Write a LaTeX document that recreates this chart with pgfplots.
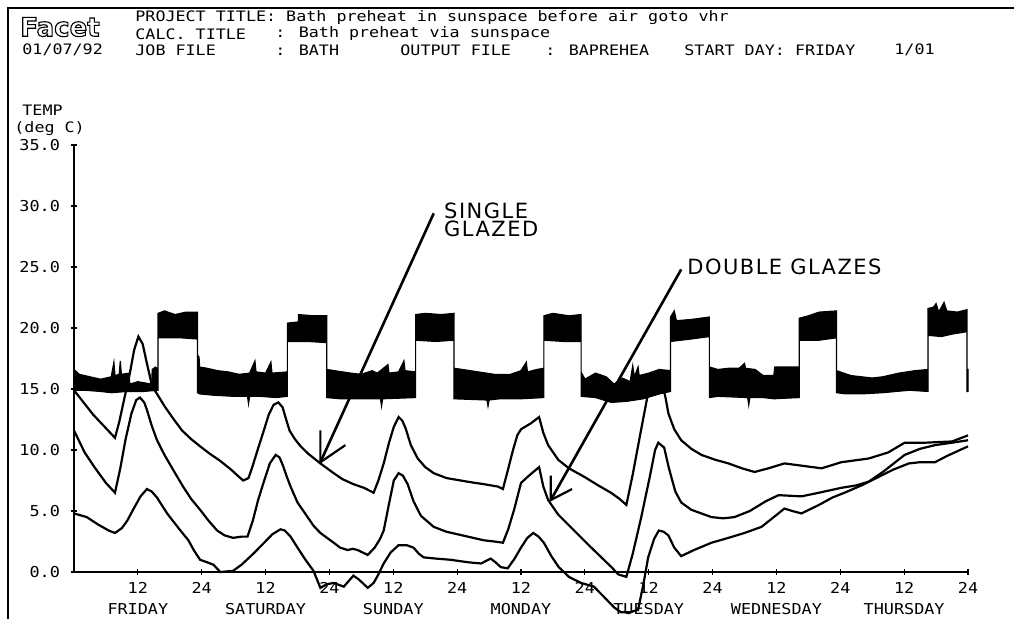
\documentclass[border=0pt]{standalone}
\usepackage{fontspec}
\usepackage{pgfplots}
\pgfplotsset{compat=1.18}
\newfontfamily\plotfont[FakeStretch=1.16]{DejaVu Sans Mono}
\newfontfamily\plotfonttick[FakeStretch=1.12]{DejaVu Sans Mono}
\newfontfamily\logofont{DejaVu Sans Bold}
\newfontfamily\handfont[LetterSpace=7]{DejaVu Sans}
\begin{document}
\begin{tikzpicture}
\begin{scope}[x=0.5pt,y=-0.5pt]
\useasboundingbox (0,0) rectangle (1014,619);
\draw[line width=1pt] (8,619) -- (8,8) -- (1014,8);
\node[anchor=west,inner sep=0pt] at (20,27) {\logofont\fontsize{13}{13}\selectfont\special{pdf:literal 1 Tr 0.55 w}Facet\special{pdf:literal 0 Tr}};
\begin{scope}[every node/.style={anchor=west,inner sep=0pt,font=\plotfont\fontsize{7.2}{8}\selectfont}]
\node at (22,50) {01/07/92};
\node at (135,18) {PROJECT TITLE: Bath preheat in sunspace before air goto vhr};
\node at (135,34) {CALC. TITLE};
\node at (275,34) {: Bath preheat via sunspace};
\node at (135,50) {JOB FILE};
\node at (275,50) {: BATH};
\node at (400,50) {OUTPUT FILE};
\node at (545,50) {: BAPREHEA};
\node at (684,50) {START DAY: FRIDAY};
\node at (894,50) {1/01};
\node at (22,110) {TEMP};
\node at (14,129) {(deg C)};
\end{scope}
\end{scope}
\begin{axis}[
 at={(37pt,-286pt)}, anchor=south west,
 scale only axis, width=447pt, height=213.5pt,
 xmin=0, xmax=168, ymin=0, ymax=35,
 clip=false,
 axis x line*=bottom, axis y line*=left,
 axis line style={line width=0.9pt},
 xtick={12,24,...,168},
 xticklabels={{12\\FRIDAY},24,{12\\SATURDAY},24,{12\\SUNDAY},24,{12\\MONDAY},24,{12\\TUESDAY},24,{12\\WEDNESDAY},24,{12\\THURSDAY},24},
 ytick={0,5,...,35},
 yticklabels={0.0,5.0,10.0,15.0,20.0,25.0,30.0,35.0},
 tick style={black, line width=0.6pt},
 major tick length=3pt,
 tick align=center,
 ticklabel style={font=\plotfonttick\fontsize{7.5}{10.5}\selectfont},
 xticklabel style={align=center},
 yticklabel style={xshift=-2pt},
]
% internal temperature band (noisy envelope: upper edge forward, lower edge back)
\addplot[fill=black, draw=black, line width=0.6pt] coordinates {
(0,16.6)(1,16.2)(2,16.1)(3,16.0)(4,15.9)(5,15.8)(6,15.9)(7,16.0)(7.5,17.2)(7.7,16.1)(8.5,16.2)(8.7,17.3)(8.9,16.2)(10.3,16.3)(10.5,15.4)(12,15.6)(14.6,15.4)(14.7,16.6)(15.3,16.8)(15.8,16.6)
(15.8,21.2)(17,21.4)(19,21.1)(21,21.3)(23.2,21.3)(23.2,17.8)(23.5,17.6)(23.6,16.8)
(25,16.7)(27,16.5)(29,16.4)(31,16.2)(33,16.3)(34,17.3)(34.2,16.4)(36,16.3)(37,17.2)(37.2,16.3)(40.1,16.4)
(40.1,20.4)(42.2,20.5)(42.2,21.1)(45,21.0)(47.5,21.0)(47.5,16.6)
(49,16.5)(52,16.3)(54,16.2)(56,16.5)(57,16.3)(59,17.0)(59.2,16.3)(61,16.4)(62,17.3)(62.2,16.5)(64.2,16.4)
(64.2,21.1)(66,21.2)(69,21.1)(71.4,21.2)(71.4,16.7)
(73,16.6)(76,16.4)(79,16.2)(82,16.2)(84,16.5)(85,17.2)(85.2,16.4)(87,16.6)(88.3,16.7)
(88.3,21.0)(90,21.2)(93,21.0)(95.3,21.1)(95.3,16.4)
(96,15.8)(98,16.3)(100,16.0)(101.5,15.4)(103,15.9)(104.5,15.6)(105,16.9)(105.3,16.0)(106,16.8)(106.2,16.1)(108,16.3)(110,16.6)(112.1,16.5)
(112.1,20.9)(112.8,21.4)(113.2,20.6)(116,20.7)(119.4,20.9)(119.4,16.8)
(121,16.6)(123,16.7)(125,16.7)(126,17.1)(126.2,16.7)(128,16.6)(129.5,16.1)(131.5,16.1)(131.7,16.8)(136.3,16.8)
(136.3,20.8)(138,21.0)(140,21.3)(143.3,21.4)(143.3,16.5)
(146,16.1)(148,16.0)(150,15.9)(152,16.0)(155,16.3)(158,16.5)(160.5,16.6)
(160.5,21.6)(161.5,21.7)(162,22.0)(162.5,21.3)(163.5,22.1)(164,21.4)(166,21.3)(167.8,21.5)(167.8,16.6)(168,16.6)
(168,14.8)(167.8,14.8)(167.8,19.7)(165,19.5)(163,19.3)(160.5,19.4)(160.5,14.8)(157,14.9)(152,14.7)(148,14.6)(145,14.6)(143.3,14.7)
(143.3,19.2)(140,19.0)(136.3,19.0)(136.3,14.3)(131.5,14.2)(129.5,14.3)(127,14.3)(126.8,13.7)(126.6,14.3)(121,14.4)(119.4,14.3)
(119.4,19.3)(116,19.1)(112.1,18.9)(112.1,14.8)(110,14.6)(107,14.2)(104,14.0)(101,13.9)(98,14.3)(95.3,14.4)
(95.3,18.9)(92,18.9)(88.3,19.0)(88.3,14.3)(84,14.2)(80,14.2)(78,14.1)(77.8,13.6)(77.6,14.1)(71.4,14.2)
(71.4,19.0)(68,18.9)(64.2,19.0)(64.2,14.3)(58,14.2)(57.8,13.6)(57.6,14.2)(50,14.2)(47.5,14.3)
(47.5,18.8)(44,18.9)(40.1,18.9)(40.1,14.4)(38,14.3)(35,14.4)(33,14.4)(32.8,13.8)(32.6,14.4)(30,14.4)(26,14.5)(23.6,14.6)(23.2,14.7)
(23.2,19.1)(20,19.2)(15.8,19.2)(15.8,14.9)(13,14.8)(10,14.8)(7,14.7)(5,14.8)(2,14.9)(0,14.9)
} -- cycle;
% single glazed sunspace
\addplot[black, line width=1.1pt] coordinates {
(0,14.9)(3.6,12.9)(7.7,11.0)(8.5,12.3)(9.5,14.3)(10.5,16.3)(11.3,18.2)(12.1,19.3)(12.9,18.7)(13.7,17.1)(14.7,15.2)(15.6,14.6)(17,13.6)(18.6,12.6)(20.3,11.6)(22,10.9)(23.7,10.3)(25.5,9.7)(27.5,9.1)(29.5,8.4)(31.0,7.8)(31.8,7.5)(32.8,7.7)
(33.5,8.6)(34.5,10.0)(35.6,11.5)(36.6,12.9)(37.5,13.7)(38.4,13.9)(39.2,13.5)(39.8,12.6)(40.5,11.6)(41.5,10.9)(42.6,10.3)(44,9.7)(46.3,8.9)(48.8,8.1)(50.5,7.6)(52.5,7.2)(54.5,6.9)(56.3,6.5)
(57.2,7.5)(58.2,8.9)(59.2,10.6)(60.1,11.9)(61.0,12.7)(61.7,12.4)(62.3,11.8)(63.3,10.4)(64.6,9.3)(66,8.6)(67.6,8.1)(70,7.7)(74.0,7.4)(77,7.2)(79.7,7.0)(80.6,6.8)
(81.5,8.3)(82.5,10.0)(83.3,11.2)(84.0,11.7)(85.9,12.2)(87.4,12.7)(88.2,11.4)(89.1,10.4)(91.0,9.2)(93,8.5)(95.9,7.8)(98.5,7.1)(100.9,6.5)(102.5,6.0)(103.8,5.5)
(105,8.0)(106.5,11.5)(107.9,14.7)(109,15.6)(110.5,15.6)(111.2,14.2)(111.7,13.0)(112.8,11.7)(114.1,10.8)(116,10.1)(117.9,9.6)(120.5,9.2)(123.0,8.9)(125.5,8.5)(127.9,8.2)(130.5,8.5)(133.5,8.9)(137,8.7)(140.5,8.5)(144.2,9.0)(149.3,9.3)(153,9.8)(156.1,10.6)(160,10.6)(165.0,10.7)(168,11.2)
};
% double glazed sunspace
\addplot[black, line width=1.1pt] coordinates {
(0,11.6)(2,9.8)(4,8.5)(6,7.3)(7.7,6.5)
(8.7,8.5)(9.7,10.9)(10.8,13.0)(11.7,14.1)(12.4,14.3)(13.2,13.9)(13.7,13.3)(14.6,12.0)(15.6,10.8)(17,9.6)(18.6,8.4)(20.5,7.0)(22,6.0)(23.7,5.1)(25.3,4.2)(26.9,3.4)(28.3,3.0)(29.9,2.8)(31.5,2.9)(32.6,2.9)
(33.6,4.2)(34.6,5.9)(35.6,7.3)(36.8,8.9)(37.9,9.6)(38.6,9.4)(39.2,8.8)(40.0,7.8)(40.7,7.0)(42,5.7)(43.9,4.5)(45,3.8)(46.3,3.2)(48.8,2.4)(50,2.0)(51.4,1.8)(52.4,1.9)(53.3,1.8)(55.2,1.4)
(56.5,2.0)(57.5,2.7)(58.2,3.4)(59.2,5.6)(60.1,7.5)(61.0,8.1)(61.8,7.9)(62.7,7.2)(63.8,5.8)(65.2,4.6)(67.6,3.7)(70,3.3)(74.0,2.9)(77,2.6)(79.0,2.5)(80.6,2.4)
(81.6,3.5)(82.7,5.1)(84.0,7.3)(85.5,7.9)(87.4,8.6)(88.2,7.0)(89.1,5.9)(91,4.7)(94.0,3.4)(96.5,2.3)(99.1,1.2)(101,0.4)(102.3,-0.2)(103.8,-0.4)
(105,1.5)(106.6,4.5)(108.2,7.8)(109.2,10.0)(109.8,10.6)(110.9,10.2)(111.8,8.5)(113,6.6)(114.1,5.7)(116,5.1)(119.8,4.5)(122,4.4)(124.1,4.5)(127,5.0)(130,5.8)(132.4,6.3)(136.7,6.2)(140,6.5)(144.2,6.9)(147,7.1)(149.3,7.4)(152,8.2)(156.1,9.6)(159,10.1)(161.8,10.4)(165,10.6)(168,10.8)
};
% third (lowest) curve
\addplot[black, line width=1.1pt] coordinates {
(0,4.8)(2.4,4.5)(4.5,3.9)(6.5,3.4)(7.7,3.2)(9,3.6)(10,4.2)(11.1,5.1)(12.5,6.2)(13.7,6.8)(14.6,6.6)(15.6,6.1)(17.5,4.8)(20.0,3.4)(21.5,2.6)(22.5,1.8)(23.7,1.0)(25,0.8)(26.2,0.6)(27.5,0.0)(29.9,0.1)(31.5,0.6)(33.7,1.5)(35.5,2.3)(37.3,3.1)(38.8,3.5)(39.6,3.4)(40.7,2.9)(42,2.0)(43.5,1.0)(45.0,0.1)(46.3,-1.3)(47.5,-1.0)(48.8,-0.9)(50.7,-1.2)(52.5,-0.3)(53.5,-0.6)(55.2,-1.3)(56.3,-0.9)(57.2,-0.2)(58.2,0.7)(59.5,1.6)(61.0,2.2)(62.5,2.2)(63.8,2.0)(64.8,1.5)(65.7,1.2)(68,1.1)(70.8,1.0)(74,0.8)(76.5,0.7)(78.3,1.1)(79.2,0.8)(80.2,0.4)(81.5,0.3)(82.8,1.1)(84.0,2.0)(85.2,2.8)(86.3,3.2)(87.3,2.9)(88.3,2.4)(89.7,1.3)(91.1,0.4)(93,-0.4)(95.3,-0.9)(97.7,-1.2)(99.5,-2.0)(101.5,-2.9)(102.8,-3.3)(104.5,-3.3)(106.0,-3.1)(107.0,-1.0)(107.9,1.2)(109.0,2.7)(109.9,3.4)(110.8,3.3)(111.7,3.0)(112.8,2.0)(114.1,1.3)(116.5,1.8)(119.8,2.4)(123,2.8)(126,3.2)(129.2,3.7)(131.5,4.5)(133.5,5.2)(135,5.0)(136.7,4.8)(140,5.5)(142.5,6.1)(144.8,6.5)(148,7.1)(151.2,7.8)(154,8.4)(156.9,8.9)(159,9.0)(161.8,9.0)(164,9.5)(166,9.9)(168,10.3)
};
% hand-drawn annotations
\draw[line width=1.3pt] (axis cs:67.6,29.4) -- (axis cs:46.3,9.0);
\draw[line width=1.1pt] (axis cs:46.3,11.6) -- (axis cs:46.3,9.0) -- (axis cs:51.0,10.4);
\node[anchor=west, align=left, inner sep=0pt, font=\handfont\fontsize{10.5}{9}\selectfont] at (axis cs:69.5,28.9) {SINGLE\\GLAZED};
\draw[line width=1.3pt] (axis cs:114.1,24.8) -- (axis cs:89.6,5.9);
\draw[line width=1.1pt] (axis cs:89.6,7.9) -- (axis cs:89.6,5.9) -- (axis cs:93.6,6.8);
\node[anchor=west, inner sep=0pt, font=\handfont\fontsize{10.5}{10}\selectfont] at (axis cs:115.2,25.0) {DOUBLE GLAZES};
\end{axis}
\end{tikzpicture}
\end{document}
